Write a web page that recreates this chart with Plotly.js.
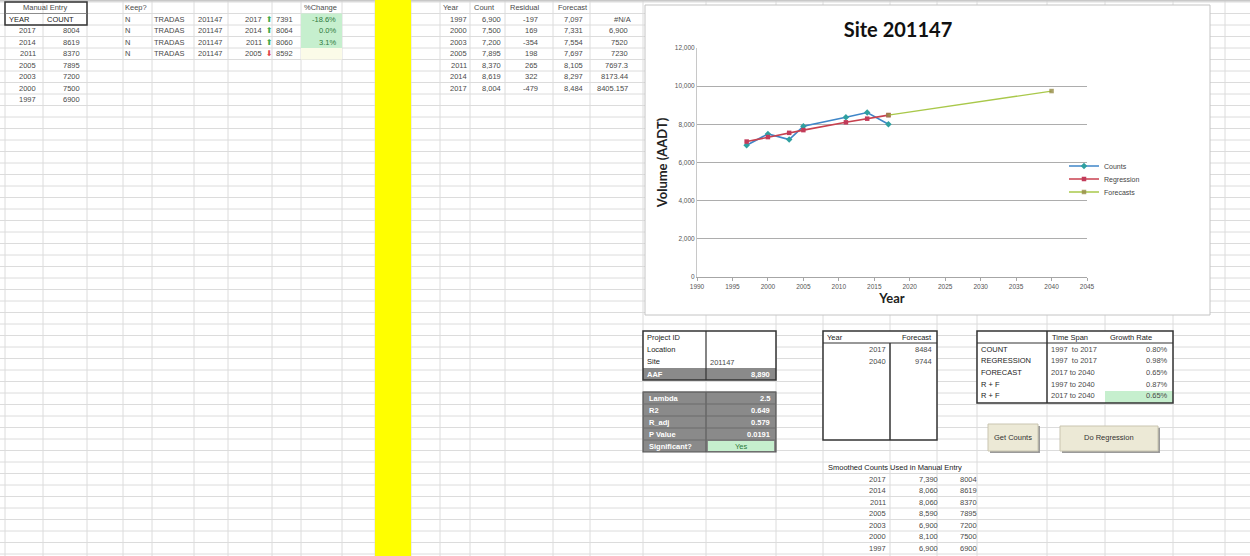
<!DOCTYPE html>
<html><head><meta charset="utf-8">
<script src="https://cdn.plot.ly/plotly-3.0.1.min.js"></script>
<style>html,body{margin:0;padding:0;background:#fff;}#chart{width:1250px;height:556px;}</style>
</head><body><div id="chart"></div>
<script>
// ---------------- DATA ----------------
const chartTitle = 'Site 201147';
const countYears = [1997, 2000, 2003, 2005, 2011, 2014, 2017];
const countValues = [6900, 7500, 7200, 7895, 8370, 8619, 8004];
const regressionValues = [7097, 7331, 7554, 7697, 8105, 8297, 8484];
const residualValues = [-197, 169, -354, 198, 265, 322, -479];
const priorColumn = ['#N/A', '6,900', '7520', '7230', '7697.3', '8173.44', '8405.157'];
const forecastYears = [2017, 2040];
const forecastValues = [8484, 9744];

const manualYears = [2017, 2014, 2011, 2005, 2003, 2000, 1997];
const manualCounts = [8004, 8619, 8370, 7895, 7200, 7500, 6900];

const keepFlags = ['N', 'N', 'N', 'N'];
const keepSource = ['TRADAS', 'TRADAS', 'TRADAS', 'TRADAS'];
const keepSite = ['201147', '201147', '201147', '201147'];
const keepYears = [2017, 2014, 2011, 2005];
const keepDir = ['up', 'up', 'up', 'down'];
const keepSmoothed = [7391, 8064, 8060, 8592];
const keepPct = ['-18.6%', '0.0%', '3.1%', ''];

const infoLabels = ['Project ID', 'Location', 'Site', 'AAF'];
const infoValues = ['', '', '201147', '8,890'];
const statLabels = ['Lambda', 'R2', 'R_adj', 'P Value', 'Significant?'];
const statValues = ['2.5', '0.649', '0.579', '0.0191', 'Yes'];

const growthLabels = ['COUNT', 'REGRESSION', 'FORECAST', 'R + F', 'R + F'];
const growthSpans = ['1997  to 2017', '1997  to 2017', '2017 to 2040', '1997 to 2040', '2017 to 2040'];
const growthRates = ['0.80%', '0.98%', '0.65%', '0.87%', '0.65%'];

const smoothYears = [2017, 2014, 2011, 2005, 2003, 2000, 1997];
const smoothValues = ['7,390', '8,060', '8,060', '8,590', '6,900', '8,100', '6,900'];
const smoothManual = [8004, 8619, 8370, 7895, 7200, 7500, 6900];

// ---------------- HELPERS ----------------
const W = 1250, H = 556;
const px = x => x / W;
const py = y => 1 - y / H;
const R0 = 2, RH = 11.5;
const rowC = k => R0 + RH * k + RH / 2;
const fmt = v => Number(v).toLocaleString('en-US');
const CELLFONT = {family: 'Liberation Sans, Arial, sans-serif', size: 7.5, color: '#4a4a4a'};

const annotations = [];
const shapes = [];
function txt(text, x, y, anchor, font) {
  annotations.push({text: String(text), x: px(x), y: py(y), xref: 'paper', yref: 'paper',
    xanchor: anchor || 'left', yanchor: 'middle', showarrow: false,
    font: Object.assign({}, CELLFONT, font || {})});
}
function rect(x0, y0, x1, y1, fill, line, lw) {
  shapes.push({type: 'rect', xref: 'paper', yref: 'paper', layer: 'below',
    x0: px(x0), x1: px(x1), y0: py(y1), y1: py(y0),
    fillcolor: fill || 'rgba(0,0,0,0)', line: {color: line || 'rgba(0,0,0,0)', width: lw || 0}});
}
function hline(x0, x1, y, color, w) {
  shapes.push({type: 'line', xref: 'paper', yref: 'paper', layer: 'below',
    x0: px(x0), x1: px(x1), y0: py(y), y1: py(y), line: {color: color, width: w}});
}
function vline(x, y0, y1, color, w) {
  shapes.push({type: 'line', xref: 'paper', yref: 'paper', layer: 'below',
    x0: px(x), x1: px(x), y0: py(y0), y1: py(y1), line: {color: color, width: w}});
}

// ---------------- SPREADSHEET GRID ----------------
const GRID = '#dcdcdc';
for (let k = 0; k <= 48; k++) hline(0, W, R0 + RH * k, GRID, 1);
const colEdges = [5, 43, 87, 123, 152, 194, 228, 272, 301, 342, 375, 411, 440, 470, 505, 553, 590, 643, 706, 776, 823, 890, 937, 977, 1047, 1105, 1173, 1225];
colEdges.forEach(x => vline(x, 0, H, GRID, 1));
hline(0, W, 0.5, '#c8c8c8', 2);

// yellow column
rect(375, 0, 411, H, '#ffff00');

// Manual entry block
rect(5, R0, 87, R0 + 2 * RH, 'rgba(0,0,0,0)', '#333', 1.5);
hline(5, 87, R0 + RH, '#777', 0.8);
txt('Manual Entry', 45, rowC(0), 'center');
txt('YEAR', 7, rowC(1), 'left', {color: '#222'});
txt('COUNT', 45, rowC(1), 'left', {color: '#222'});
manualYears.forEach((y, i) => {
  txt(y, 38, rowC(i + 2), 'right');
  txt(manualCounts[i], 82, rowC(i + 2), 'right');
});

// Keep? block
txt('Keep?', 123, rowC(0), 'left');
txt('%Change', 302, rowC(0), 'left');
rect(301, R0 + RH, 342, R0 + 4 * RH, '#c6efce');
rect(301, R0 + 4 * RH, 342, R0 + 5 * RH, '#fbfbe8');
keepFlags.forEach((f, i) => {
  const y = rowC(i + 1);
  txt(f, 123, y, 'left');
  txt(keepSource[i], 152, y, 'left');
  txt(keepSite[i], 196, y, 'left');
  txt(keepYears[i], 264, y, 'right');
  txt(keepDir[i] === 'up' ? '⬆' : '⬇', 269, y, 'center',
      {family: 'DejaVu Sans', size: 8, color: keepDir[i] === 'up' ? '#3daa4e' : '#e0454b'});
  txt(keepSmoothed[i], 274, y, 'left');
  txt(keepPct[i], 338, y, 'right', {color: '#2d7a3c'});
});

// Regression table (middle)
txt('Year', 441, rowC(0), 'left');
txt('Count', 472, rowC(0), 'left');
txt('Residual', 508, rowC(0), 'left');
txt('Forecast', 556, rowC(0), 'left');
countYears.forEach((y, i) => {
  const r = rowC(i + 1);
  txt(y, 469, r, 'right');
  txt(fmt(countValues[i]), 503, r, 'right');
  txt(residualValues[i], 540, r, 'right');
  txt(fmt(regressionValues[i]), 585, r, 'right');
  txt(priorColumn[i], priorColumn[i] === '#N/A' ? 612 : 630, r, priorColumn[i] === '#N/A' ? 'left' : 'right');
});

// ---------------- CHART BOX ----------------
rect(645, 5, 1210, 315, '#ffffff', '#c4c4c4', 1);

// ---------------- LOWER TABLES ----------------
rect(643, 331, 776, 380, '#ffffff');
rect(643, 368, 776, 380, '#8a8a8a');
rect(643, 331, 776, 380, 'rgba(0,0,0,0)', '#333', 1.5);
vline(706, 331, 380, '#333', 1.2);
const infoY = [337, 349, 361, 374];
infoLabels.forEach((l, i) => {
  const white = i === 3;
  txt(l, 645, infoY[i], 'left', white ? {color: '#fff', weight: 'bold'} : {color: '#222'});
  if (infoValues[i]) txt(infoValues[i], white ? 772 : 708, infoY[i] + (i === 2 ? 1 : 0), white ? 'right' : 'left', white ? {color: '#fff', weight: 'bold'} : {});
});

rect(643, 392, 776, 452, '#8a8a8a', '#555', 1.2);
vline(706, 392, 452, '#555', 1);
rect(708, 441, 774, 451, '#c6efce');
const statY = [398, 410, 422, 434, 446];
statLabels.forEach((l, i) => {
  hline(643, 776, 392 + 12 * i, '#6a6a6a', 1);
  txt(l, 647, statY[i], 'left', {color: '#fff', weight: 'bold'});
  if (i < 4) txt(statValues[i], 772, statY[i], 'right', {color: '#fff', weight: 'bold'});
  else txt(statValues[i], 741, statY[i], 'center', {color: '#2d7a3c'});
});

// Year / Forecast table
rect(823, 331, 937, 440, '#ffffff', '#333', 1.5);
hline(823, 937, 343, '#333', 1.2);
vline(890, 343, 440, '#333', 1.5);
txt('Year', 825, 337, 'left', {color: '#222'});
txt('Forecast', 900, 337, 'left', {color: '#222'});
forecastYears.forEach((y, i) => {
  txt(y, 888, 349 + 12 * i, 'right');
  txt(forecastValues[i], 934, 349 + 12 * i, 'right');
});

// Growth table
rect(977, 331, 1173, 403, '#ffffff');
rect(1105, 391, 1173, 403, '#c6efce');
rect(977, 331, 1173, 403, 'rgba(0,0,0,0)', '#333', 1.5);
hline(977, 1173, 343, '#333', 1.2);
vline(1047, 331, 403, '#333', 1.5);
txt('Time Span', 1050, 337, 'left', {color: '#222'});
txt('Growth Rate', 1108, 337, 'left', {color: '#222'});
growthLabels.forEach((l, i) => {
  const y = 349 + 11.7 * i;
  txt(l, 979, y, 'left', {color: '#222'});
  txt(growthSpans[i], 1049, y, 'left');
  txt(growthRates[i], 1170, y, 'right');
});

// Buttons
rect(990, 426, 1040, 453, '#9a9a9a');
rect(988, 424, 1038, 451, '#ece9d6', '#c9c5b0', 1);
txt('Get Counts', 1013, 437.5, 'center', {color: '#333'});
rect(1062, 428, 1160, 453, '#9a9a9a');
rect(1060, 426, 1158, 451, '#ece9d6', '#c9c5b0', 1);
txt('Do Regression', 1109, 437.5, 'center', {color: '#333'});

// Smoothed counts
txt('Smoothed Counts Used in Manual Entry', 826, rowC(40), 'left', {color: '#222'});
smoothYears.forEach((y, i) => {
  const r = rowC(41 + i);
  txt(y, 888, r, 'right');
  txt(smoothValues[i], 940, r, 'right');
  txt(smoothManual[i], 958, r, 'left');
});

// ---------------- TRACES ----------------
const traces = [
  {x: countYears, y: countValues, name: 'Counts', type: 'scatter', mode: 'lines+markers', legend: 'legend',
   line: {color: '#3f86c8', width: 1.6}, marker: {symbol: 'diamond', size: 5, color: '#2fa0a0'}},
  {x: countYears, y: regressionValues, name: 'Regression', type: 'scatter', mode: 'lines+markers', legend: 'legend2',
   line: {color: '#c8414f', width: 1.6}, marker: {symbol: 'square', size: 4.5, color: '#c23b5a'}},
  {x: forecastYears, y: forecastValues, name: 'Forecasts', type: 'scatter', mode: 'lines+markers', legend: 'legend3',
   line: {color: '#a9c84a', width: 1.3}, marker: {symbol: 'square', size: 4.5, color: 'rgba(150,140,70,0.8)'}}
];

const legendBase = {x: px(1064), xanchor: 'left', yanchor: 'middle', bgcolor: 'rgba(0,0,0,0)',
  font: {family: 'Liberation Sans, Arial', size: 7, color: '#444'}, itemwidth: 30, tracegroupgap: 0};

const layout = {
  width: W, height: H,
  margin: {l: 0, r: 0, t: 0, b: 0},
  paper_bgcolor: '#ffffff', plot_bgcolor: '#ffffff',
  showlegend: true,
  title: {text: '<b>' + chartTitle + '</b>', x: px(898), y: py(30), xref: 'paper', yref: 'paper',
          xanchor: 'center', yanchor: 'middle',
          font: {family: 'Lato, Open Sans, sans-serif', size: 20, color: '#111'}},
  xaxis: {domain: [px(697), px(1087)], range: [1990, 2045], dtick: 5, tick0: 1990,
          showgrid: false, zeroline: false, showline: true, linecolor: '#a6a6a6', linewidth: 1,
          ticks: 'outside', ticklen: 3, tickcolor: '#a6a6a6',
          tickfont: {family: 'Liberation Sans, Arial', size: 6.5, color: '#555'},
          title: {text: '<b>Year</b>', standoff: 3, font: {family: 'Lato, Open Sans, sans-serif', size: 13, color: '#222'}}},
  yaxis: {domain: [py(277), py(48)], range: [0, 12000], dtick: 2000, tickformat: ',',
          showgrid: true, gridcolor: '#adadad', gridwidth: 1, zeroline: false,
          showline: true, linecolor: '#c8c8c8',
          tickfont: {family: 'Liberation Sans, Arial', size: 6.5, color: '#555'},
          title: {text: '<b>Volume (AADT)</b>', standoff: 4, font: {family: 'Lato, Open Sans, sans-serif', size: 13, color: '#222'}}},
  legend: Object.assign({}, legendBase, {y: py(166)}),
  legend2: Object.assign({}, legendBase, {y: py(179)}),
  legend3: Object.assign({}, legendBase, {y: py(192)}),
  shapes: shapes,
  annotations: annotations,
  hovermode: false
};

Plotly.newPlot('chart', traces, layout, {displayModeBar: false, staticPlot: true});
</script>
</body></html>
